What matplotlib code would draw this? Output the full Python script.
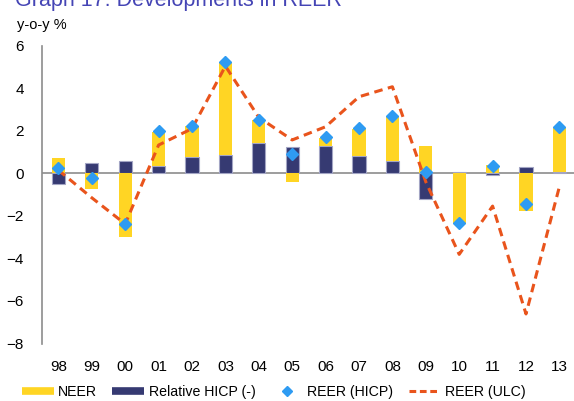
import matplotlib.pyplot as plt
from matplotlib.lines import Line2D
import numpy as np

plt.rcParams['font.family'] = ['Liberation Sans', 'DejaVu Sans']

years = ['98', '99', '00', '01', '02', '03', '04', '05', '06', '07', '08', '09', '10', '11', '12', '13']
neer = [0.73, -0.74, -3.01, 1.60, 1.44, 4.39, 1.08, -0.39, 0.39, 1.29, 2.10, 1.28, -2.38, 0.39, -1.77, 2.05]
rel_hicp = [-0.50, 0.48, 0.59, 0.36, 0.78, 0.86, 1.41, 1.25, 1.28, 0.81, 0.56, -1.22, 0.05, -0.08, 0.31, 0.08]
reer_hicp = [0.26, -0.22, -2.40, 1.99, 2.24, 5.25, 2.50, 0.89, 1.69, 2.11, 2.68, 0.05, -2.32, 0.33, -1.43, 2.16]
reer_ulc = [0.15, -1.15, -2.38, 1.33, 2.10, 5.04, 2.63, 1.57, 2.19, 3.60, 4.07, -0.40, -3.81, -1.54, -6.61, -0.63]

yellow = '#FFD524'
navy = '#363A72'
blue = '#2E9BF2'
orange = '#E9541C'

fig = plt.figure(figsize=(5.74, 4.01), dpi=100)
ax = fig.add_axes([41.7 / 574, 1 - 343.5 / 401, 534.4 / 574, (343.5 - 45.7) / 401])

x = np.arange(len(years))
neer_a = np.array(neer)
hicp_a = np.array(rel_hicp)
# NEER stacks on top of HICP when both have the same sign
bottom = np.where(np.sign(neer_a) == np.sign(hicp_a), hicp_a, 0)

ax.bar(x, rel_hicp, width=0.4, color=navy, edgecolor='#A3A5C4', linewidth=0.8, zorder=2)
ax.bar(x, neer, width=0.4, bottom=bottom, color=yellow, linewidth=0, zorder=2)
ax.plot(x, reer_ulc, color=orange, lw=2.2, dashes=(2.8, 1.8), zorder=3)
ax.plot(x, reer_hicp, 'D', color=blue, markersize=6.5, zorder=4)

ax.axhline(0, color='#8C8C8C', lw=1.2, zorder=1)
ax.set_xlim(-0.5, 15.5)
ax.set_ylim(-8, 6)
ax.set_yticks(range(-8, 7, 2))
ax.set_xticks(x)
ax.set_xticklabels(years)
for s in ['top', 'right', 'bottom']:
    ax.spines[s].set_visible(False)
ax.spines['left'].set_color('#8C8C8C')
ax.spines['left'].set_linewidth(1.2)
ax.tick_params(axis='y', length=0, pad=13, labelsize=11)
ax.tick_params(axis='x', length=0, pad=12, labelsize=11)

fig.text(17 / 574, 1 - 29 / 401, 'y-o-y %', fontsize=10.5, va='baseline')
fig.text(15 / 574, 1 - 6 / 401, 'Graph 17: Developments in REER', fontsize=15.5,
         color='#4545B5', va='baseline')

handles = [
    Line2D([0], [0], color=yellow, lw=5.5, solid_capstyle='butt'),
    Line2D([0], [0], color=navy, lw=5.5, solid_capstyle='butt'),
    Line2D([0], [0], color=blue, marker='D', markersize=5, lw=0),
    Line2D([0], [0], color=orange, lw=2.2, dashes=(2.2, 1.2)),
]
labels = ['NEER', 'Relative HICP (-)', 'REER (HICP)', 'REER (ULC)']
fig.legend(handles, labels, loc='center', bbox_to_anchor=(273.5 / 574, 1 - 392 / 401), ncol=4,
           frameon=False, fontsize=10.2, handlelength=2.25, handletextpad=0.3,
           columnspacing=1.1, borderpad=0, borderaxespad=0)

fig.savefig('out.png', dpi=100)
